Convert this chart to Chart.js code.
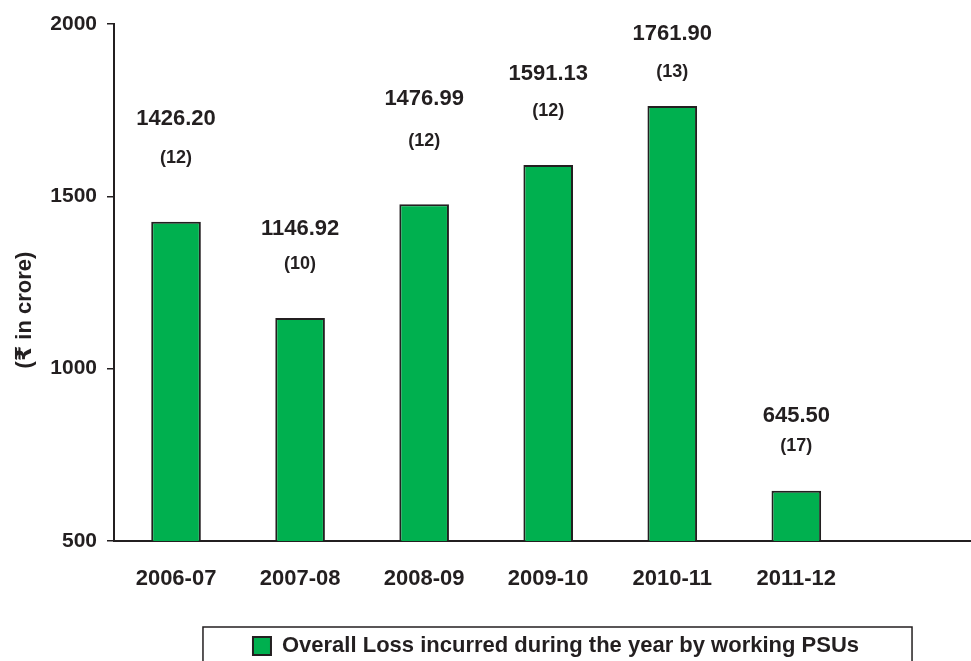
<!DOCTYPE html>
<html>
<head>
<meta charset="utf-8">
<script src="https://cdn.jsdelivr.net/npm/chart.js@4"></script>
<style>
  html, body { margin: 0; padding: 0; background: #fff; }
  #wrap { width: 971px; height: 661px; }
</style>
</head>
<body>
<div id="wrap"><canvas id="lossChart"></canvas></div>
<script>
// data
const years = ['2006-07', '2007-08', '2008-09', '2009-10', '2010-11', '2011-12'];
const lossValues = [1426.20, 1146.92, 1476.99, 1591.13, 1761.90, 645.50];
const psuCounts = [12, 10, 12, 12, 13, 17];
const yTicks = [500, 1000, 1500, 2000];

// layout only: how far above each bar top the two labels sit (px)
const valueLift = [103, 89, 105, 91, 72, 75];
const countLift = [64, 54, 63, 54, 34, 45];

const ink = '#231f20';
const green = '#00b04f';
const family = "'Liberation Sans', Arial, 'DejaVu Sans', sans-serif";

// value + (count) above every bar
const barLabels = {
  id: 'barLabels',
  afterDatasetsDraw(chart) {
    const ctx = chart.ctx;
    const meta = chart.getDatasetMeta(0);
    ctx.save();
    ctx.fillStyle = ink;
    ctx.textAlign = 'center';
    ctx.textBaseline = 'middle';
    meta.data.forEach((bar, i) => {
      ctx.font = 'bold 22px ' + family;
      ctx.fillText(lossValues[i].toFixed(2), bar.x, bar.y - valueLift[i]);
      ctx.font = 'bold 18px ' + family;
      ctx.fillText('(' + psuCounts[i] + ')', bar.x, bar.y - countLift[i]);
    });
    ctx.restore();
  }
};

// legend sits a bit right of / below the plot centre in the original
const legendNudge = {
  id: 'legendNudge',
  afterLayout(chart) {
    const lg = chart.legend;
    lg.left += 14; lg.right += 14;
    lg.top += 6; lg.bottom += 6;
  }
};

// frame round the legend like the original
const legendFrame = {
  id: 'legendFrame',
  afterDraw(chart) {
    const hb = chart.legend.legendHitBoxes[0];
    if (!hb) return;
    const ctx = chart.ctx;
    ctx.save();
    ctx.strokeStyle = ink;
    ctx.lineWidth = 1.5;
    ctx.strokeRect(hb.left - 50, hb.top - 8, hb.width + 103, 100);
    ctx.restore();
  }
};

new Chart(document.getElementById('lossChart'), {
  type: 'bar',
  data: {
    datasets: [{
      label: 'Overall Loss incurred during the year by working PSUs',
      data: lossValues.map((v, i) => ({ x: i, y: v })),
      backgroundColor: green,
      borderColor: ink,
      borderWidth: 2,
      barPercentage: 0.4,
      categoryPercentage: 1
    }]
  },
  options: {
    responsive: true,
    maintainAspectRatio: false,
    animation: false,
    layout: { padding: { top: 24, right: 1, left: 0, bottom: 0 } },
    plugins: {
      tooltip: { enabled: false },
      legend: {
        position: 'bottom',
        fullSize: false,
        labels: {
          color: ink,
          font: { family, size: 22, weight: 'bold' },
          boxWidth: 18,
          boxHeight: 18,
          padding: 8
        }
      }
    },
    scales: {
      x: {
        type: 'linear',
        offset: false,
        min: -0.5,
        max: 6.4,
        afterBuildTicks: s => { s.ticks = years.map((_, i) => ({ value: i })); },
        afterFit: s => { s.height = 80; },
        grid: { display: false },
        border: { display: true, color: ink, width: 2 },
        ticks: {
          autoSkip: false,
          maxRotation: 0,
          padding: 17,
          color: ink,
          font: { family, size: 22, weight: 'bold' },
          callback: v => years[v]
        }
      },
      y: {
        min: 500,
        max: 2000,
        afterBuildTicks: s => { s.ticks = yTicks.map(v => ({ value: v })); },
        afterFit: s => { s.width = 114; },
        grid: { drawOnChartArea: false, drawTicks: true, tickLength: 7, color: ink, lineWidth: 1.5 },
        border: { display: true, color: ink, width: 2 },
        ticks: {
          padding: 10,
          color: ink,
          font: { family, size: 21, weight: 'bold' },
          callback: v => String(v)
        },
        title: {
          display: true,
          // trailing spaces push the centred title down like the original
          text: '(₹ in crore)         ',
          color: ink,
          font: { family, size: 22, weight: 'bold' },
          padding: { top: 12, bottom: 0 }
        }
      }
    }
  },
  plugins: [barLabels, legendNudge, legendFrame]
});
</script>
</body>
</html>
